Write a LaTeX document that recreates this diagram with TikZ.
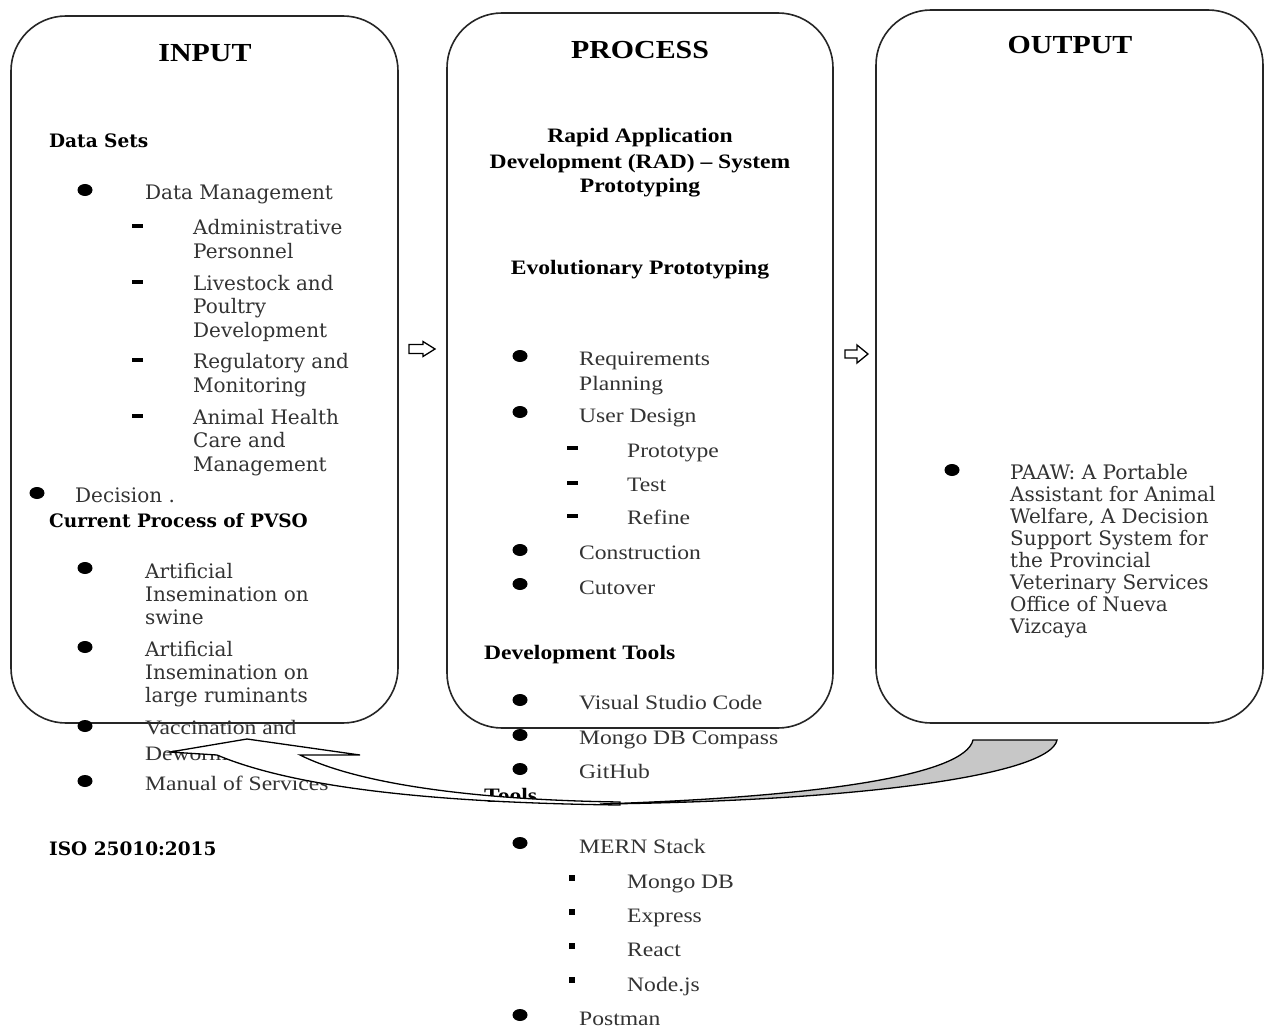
\documentclass[tikz,border=0pt]{standalone}
\usepackage{fontspec}
\setmainfont{Liberation Serif}
\newfontfamily\tms[FakeStretch=1.15]{Liberation Serif}
\newfontfamily\cmb{DejaVu Serif}
\tikzset{
  box/.style={draw=black!85, line width=1.6pt, rounded corners=55pt},
  ttl/.style={font=\tms\bfseries\fontsize{26}{30}\selectfont, anchor=base, inner sep=0pt},
  ct/.style={font=\cmb\fontsize{20}{24}\selectfont, text=black!80, anchor=base west, inner sep=0pt, align=left},
  ctb/.style={font=\cmb\bfseries\fontsize{18.5}{24}\selectfont, text=black, anchor=base west, inner sep=0pt, align=left},
  pt/.style={font=\tms\fontsize{20.5}{25}\selectfont, text=black!80, anchor=base west, inner sep=0pt, align=left},
  ptb/.style={font=\tms\bfseries\fontsize{20.5}{25}\selectfont, text=black, anchor=base west, inner sep=0pt, align=left},
  ot/.style={font=\cmb\fontsize{20}{22}\selectfont, text=black!80, anchor=base west, inner sep=0pt, align=left},
  blk/.style={line width=1.3pt, draw=black, fill=white},
}
% multi-line nodes: the base anchor is the baseline of the LAST line
\newcommand{\bul}[2]{\fill (#1,#2) ellipse [x radius=7.5pt, y radius=6pt];}
\newcommand{\dsh}[2]{\fill (#1-5.5,#2-1.6) rectangle (#1+5.5,#2+1.6);}
\newcommand{\sqb}[2]{\fill (#1-3,#2-3) rectangle (#1+3,#2+3);}
\begin{document}
\begin{tikzpicture}[x=1pt,y=-1pt]
\useasboundingbox (0,0) rectangle (1265,1027);
\fill[white] (0,0) rectangle (1265,1027);

% boxes
\draw[box] (11,16) rectangle (398,723);
\draw[box] (447,13) rectangle (833,728);
\draw[box] (876,10) rectangle (1263,723);

% titles
\node[ttl] (tin) at (205,62) {INPUT};
\node[ttl] (tpr) at (640,59) {PROCESS};
\node[ttl] (tou) at (1070,54) {OUTPUT};

% INPUT
\node[ctb] (ds) at (49,148) {Data Sets};
\bul{85}{190}
\node[ct] (dm) at (145,199) {Data Management};
\dsh{137}{226}
\node[ct] (ap) at (193,258) {Administrative\\Personnel};
\dsh{137}{282}
\node[ct, font=\cmb\fontsize{20}{23.5}\selectfont] (lp) at (193,337) {Livestock and\\Poultry\\Development};
\dsh{137}{360}
\node[ct] (rm) at (193,392) {Regulatory and\\Monitoring};
\dsh{137}{416}
\node[ct, font=\cmb\fontsize{20}{23.5}\selectfont] (ah) at (193,471) {Animal Health\\Care and\\Management};
\bul{37}{493}
\node[ct] (dc) at (75,502) {Decision .};
\node[ctb] (cp) at (49,527) {Current Process of PVSO};
\bul{85}{568}
\node[ct, font=\cmb\fontsize{20}{23}\selectfont] (a1) at (145,624) {Artificial\\Insemination on\\swine};
\bul{85}{647}
\node[ct, font=\cmb\fontsize{20}{23}\selectfont] (a2) at (145,702) {Artificial\\Insemination on\\large ruminants};
\bul{85}{726}
\node[pt, font=\tms\fontsize{20.5}{26}\selectfont] (vd) at (145,760) {Vaccination and\\Deworming};
\bul{85}{781}
\node[pt] (ms) at (145,790) {Manual of Services};
\node[ctb] (iso) at (49,855) {ISO 25010:2015};

% PROCESS
\node[ptb, anchor=base, align=center] (rad) at (640,193) {Rapid Application\\Development (RAD) – System\\Prototyping};
\node[ptb, anchor=base] (evo) at (640,274) {Evolutionary Prototyping};
\bul{520}{356}
\node[pt] (rp) at (579,390) {Requirements\\Planning};
\bul{520}{412}
\node[pt] (ud) at (579,422) {User Design};
\dsh{572}{448}
\node[pt] (pr) at (627,457) {Prototype};
\dsh{572}{483}
\node[pt] (te) at (627,491) {Test};
\dsh{572}{516}
\node[pt] (re) at (627,524) {Refine};
\bul{520}{550}
\node[pt] (co) at (579,559) {Construction};
\bul{520}{584}
\node[pt] (cu) at (579,594) {Cutover};
\node[ptb] (dt) at (484,659) {Development Tools};
\bul{520}{700}
\node[pt] (vs) at (579,709) {Visual Studio Code};
\bul{520}{735}
\node[pt] (mc) at (579,744) {Mongo DB Compass};
\bul{520}{769}
\node[pt] (gh) at (579,778) {GitHub};
\node[ptb] (tl) at (484,802) {Tools};
\bul{520}{843}
\node[pt] (mern) at (579,853) {MERN Stack};
\sqb{572}{878}
\node[pt] (mdb) at (627,888) {Mongo DB};
\sqb{572}{912}
\node[pt] (ex) at (627,922) {Express};
\sqb{572}{946}
\node[pt] (rc) at (627,956) {React};
\sqb{572}{980}
\node[pt] (nd) at (627,991) {Node.js};
\bul{520}{1015}
\node[pt] (pm) at (579,1025) {Postman};

% OUTPUT
\bul{952}{470}
\node[ot] (paaw) at (1010,633) {PAAW: A Portable\\Assistant for Animal\\Welfare, A Decision\\Support System for\\the Provincial\\Veterinary Services\\Office of Nueva\\Vizcaya};

% small block arrows between boxes
\draw[blk] (409,344.5) -- (423,344.5) -- (423,341.5) -- (435,349) -- (423,356.5) -- (423,353.5) -- (409,353.5) -- cycle;
\draw[blk] (845,350) -- (857,350) -- (857,345) -- (868,354) -- (857,363) -- (857,358) -- (845,358) -- cycle;

% curved feedback arrow (output back to input)
\draw[blk] (170,752) -- (247,739) -- (360,755) -- (300,755)
  .. controls (360,785) and (480,800) .. (620,802) -- (620,805)
  .. controls (450,803) and (300,790) .. (217,755) -- cycle;
\draw[line width=1.3pt, draw=black, fill=black!22] (973,740) -- (1057,740)
  .. controls (1050,775) and (860,801) .. (600,804)
  .. controls (820,797) and (965,775) .. (973,740) -- cycle;
\end{tikzpicture}
\end{document}
